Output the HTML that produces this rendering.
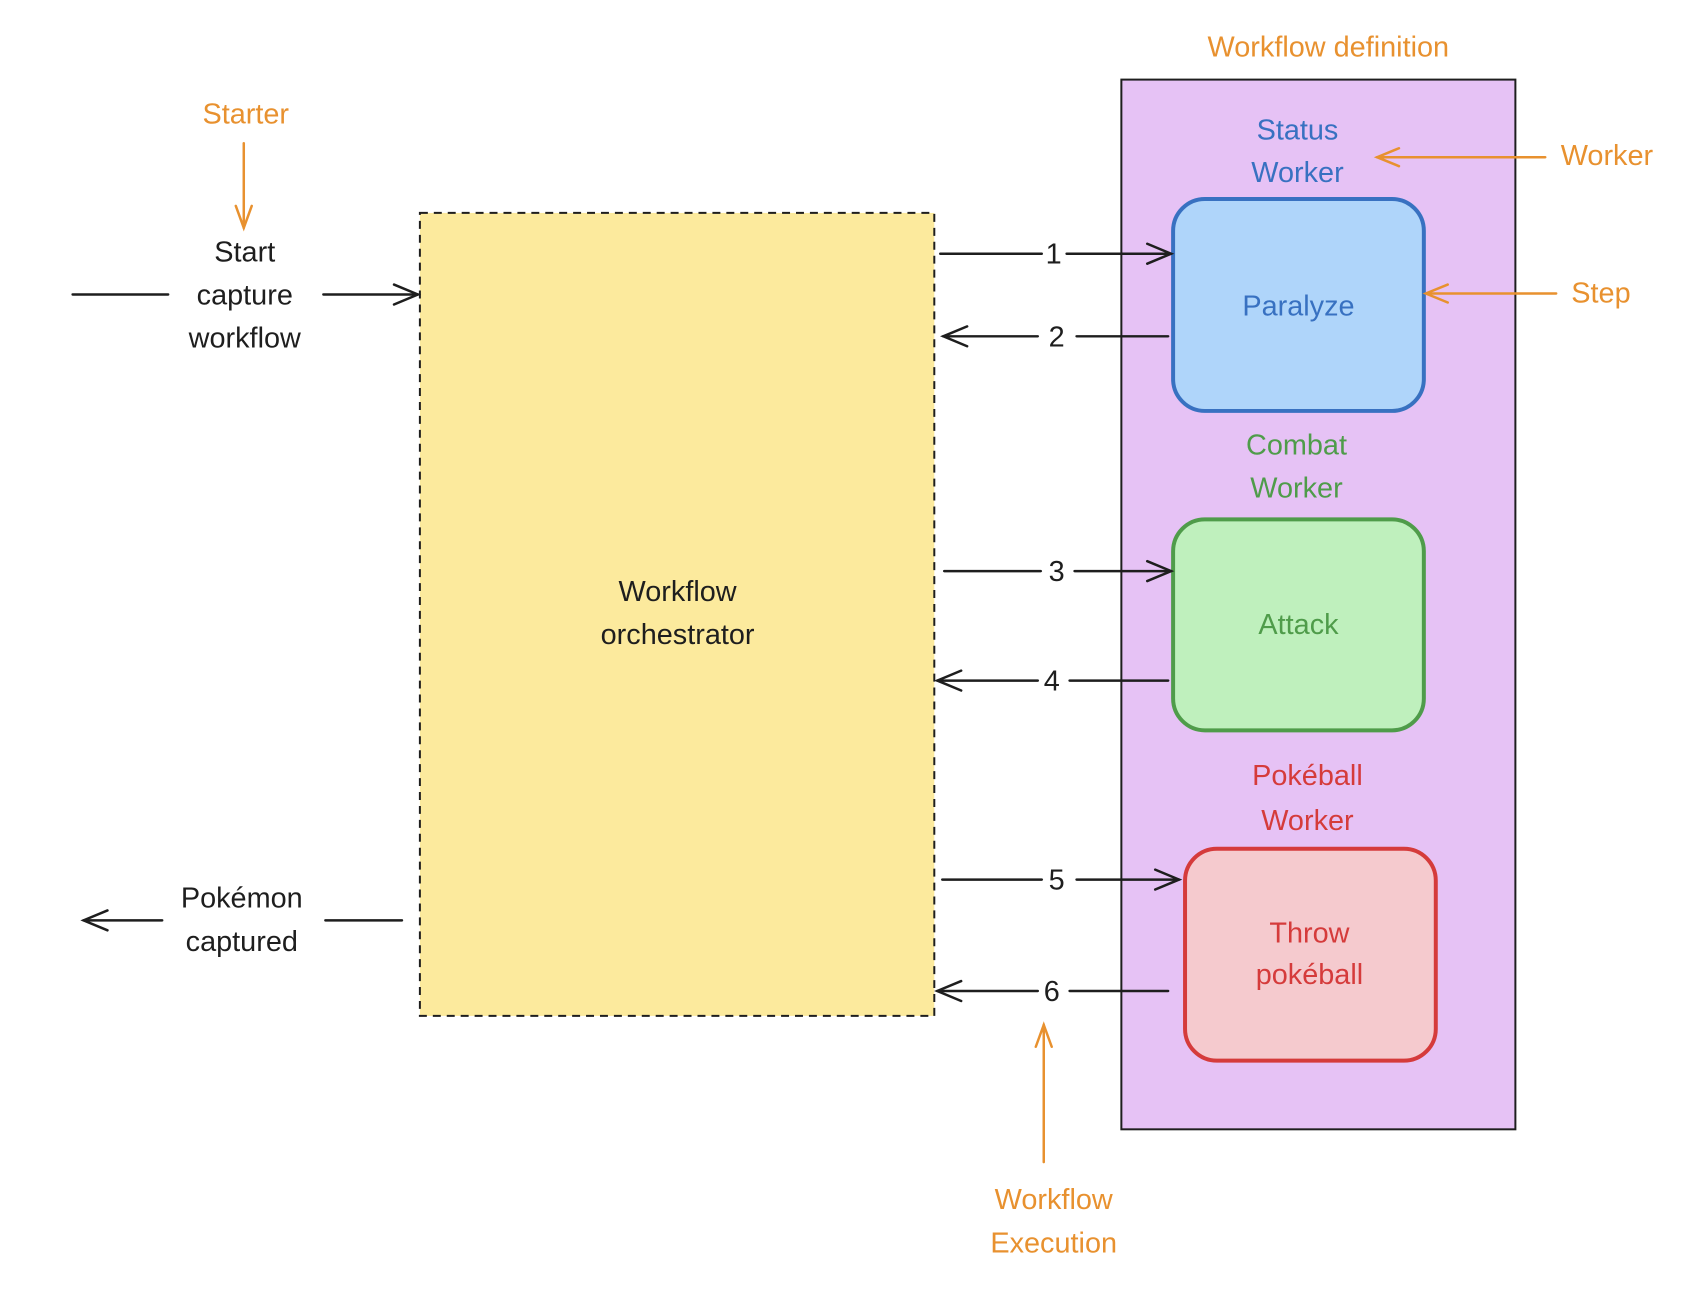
<!DOCTYPE html>
<html><head><meta charset="utf-8"><style>
html,body{margin:0;padding:0;background:#fff;}
svg text{font-family:"Liberation Sans",sans-serif;font-size:29px;text-anchor:middle;}
</style></head><body>
<svg width="1700" height="1294" viewBox="0 0 1700 1294" xmlns="http://www.w3.org/2000/svg">
<rect width="1700" height="1294" fill="#fff"/>
<g transform="scale(0.995)">
<rect x="1127" y="80" width="396" height="1055" fill="#e6c2f5" stroke="#1e1e1e" stroke-width="2"/>
<rect x="422" y="214" width="517" height="807" fill="#fcea9d" stroke="#1e1e1e" stroke-width="2" stroke-dasharray="8,6"/>
<rect x="1179" y="200" width="252" height="213" rx="32" fill="#afd5fa" stroke="#3871c1" stroke-width="4"/>
<rect x="1179" y="522" width="252" height="212" rx="32" fill="#bff0bd" stroke="#4f9c4a" stroke-width="4"/>
<rect x="1191" y="853" width="252" height="213" rx="32" fill="#f5cace" stroke="#d53b3b" stroke-width="4"/>
<g stroke="#1e1e1e" stroke-width="2.5" fill="none" stroke-linecap="round">
<line x1="73" y1="296" x2="169" y2="296"/>
<line x1="325" y1="296" x2="420" y2="296"/><polyline points="396,286 420,296 396,306"/>
<line x1="84" y1="925" x2="163" y2="925"/><polyline points="108,915 84,925 108,935"/>
<line x1="327" y1="925" x2="404" y2="925"/>
<line x1="945" y1="255" x2="1047" y2="255"/><line x1="1072" y1="255" x2="1177" y2="255"/><polyline points="1153,245 1177,255 1153,265"/>
<line x1="948" y1="338" x2="1043" y2="338"/><polyline points="972,328 948,338 972,348"/><line x1="1082" y1="338" x2="1174" y2="338"/>
<line x1="949" y1="574" x2="1046" y2="574"/><line x1="1080" y1="574" x2="1177" y2="574"/><polyline points="1153,564 1177,574 1153,584"/>
<line x1="942" y1="684" x2="1043" y2="684"/><polyline points="966,674 942,684 966,694"/><line x1="1075" y1="684" x2="1174" y2="684"/>
<line x1="947" y1="884" x2="1047" y2="884"/><line x1="1082" y1="884" x2="1185" y2="884"/><polyline points="1161,874 1185,884 1161,894"/>
<line x1="942" y1="996" x2="1043" y2="996"/><polyline points="966,986 942,996 966,1006"/><line x1="1075" y1="996" x2="1174" y2="996"/>
</g>
<g stroke="#e8912f" stroke-width="2.5" fill="none" stroke-linecap="round">
<line x1="245" y1="144" x2="245" y2="229"/><polyline points="237,207 245,229 253,207"/>
<line x1="1553" y1="158" x2="1384" y2="158"/><polyline points="1406,149 1384,158 1406,167"/>
<line x1="1564" y1="295" x2="1433" y2="295"/><polyline points="1455,286 1433,295 1455,304"/>
<line x1="1049" y1="1168" x2="1049" y2="1030"/><polyline points="1041,1052 1049,1030 1057,1052"/>
</g>
<g fill="#1e1e1e">
<text x="246" y="263">Start</text><text x="246" y="306">capture</text><text x="246" y="349">workflow</text>
<text x="243" y="912">Pokémon</text><text x="243" y="956">captured</text>
<text x="681" y="604">Workflow</text><text x="681" y="647">orchestrator</text>
<text x="1059" y="265">1</text><text x="1062" y="348">2</text><text x="1062" y="584">3</text><text x="1057" y="694">4</text><text x="1062" y="894">5</text><text x="1057" y="1006">6</text>
</g>
<g fill="#e8912f">
<text x="1335" y="57">Workflow definition</text>
<text x="247" y="124">Starter</text>
<text x="1615" y="166">Worker</text>
<text x="1609" y="304">Step</text>
<text x="1059" y="1215">Workflow</text><text x="1059" y="1259">Execution</text>
</g>
<g fill="#3871c1"><text x="1304" y="140">Status</text><text x="1304" y="183">Worker</text><text x="1305" y="317">Paralyze</text></g>
<g fill="#4f9c4a"><text x="1303" y="457">Combat</text><text x="1303" y="500">Worker</text><text x="1305" y="637">Attack</text></g>
<g fill="#d53b3b"><text x="1314" y="789">Pokéball</text><text x="1314" y="834">Worker</text><text x="1316" y="947">Throw</text><text x="1316" y="989">pokéball</text></g>
</g>
</svg>
</body></html>
